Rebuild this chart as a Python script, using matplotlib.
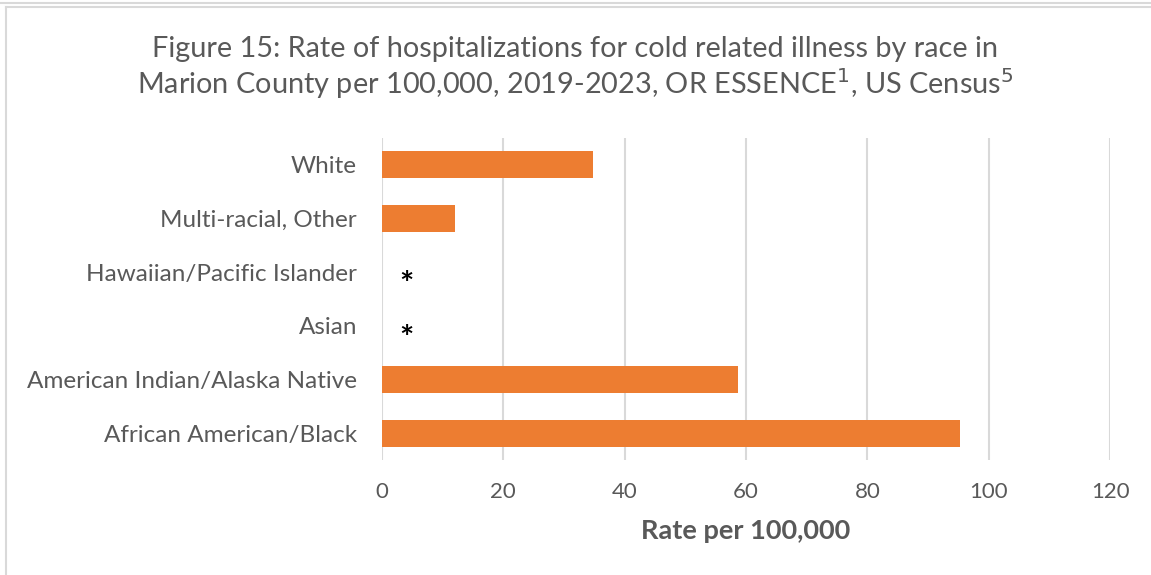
import matplotlib.pyplot as plt
from matplotlib.lines import Line2D

plt.rcParams['font.family'] = ['Lato', 'DejaVu Sans']

# data
races = ['African American/Black', 'American Indian/Alaska Native', 'Asian',
         'Hawaiian/Pacific Islander', 'Multi-racial, Other', 'White']
rates = [95.3, 58.7, 0, 0, 12.0, 34.8]
suppressed = ['Asian', 'Hawaiian/Pacific Islander']

fig = plt.figure(figsize=(11.51, 5.75), dpi=100)
ax = fig.add_axes([0.3319, 0.2, 0.6325, 0.56])

ax.barh(races, rates, height=0.5, color='#ED7D31', zorder=3)
for r in suppressed:
    ax.text(4, races.index(r) - 0.25, '*', ha='center', va='center', fontsize=24,
            fontweight='bold', color='black')

ax.set_xlim(0, 120)
ax.set_ylim(-0.5, len(races) - 0.5)
ax.set_xticks(range(0, 121, 20))
ax.grid(axis='x', color='#D9D9D9', linewidth=1.5, zorder=0)
for s in ax.spines.values():
    s.set_visible(False)
ax.tick_params(axis='both', length=0, labelcolor='#595959')
ax.tick_params(axis='y', pad=18, labelsize=17.5)
ax.tick_params(axis='x', pad=16, labelsize=16)
ax.set_xlabel('Rate per 100,000', fontsize=19.5, fontweight='bold',
              color='#595959', labelpad=12)

fig.text(0.5, 0.915, 'Figure 15: Rate of hospitalizations for cold related illness by race in',
         ha='center', va='center', fontsize=20.8, color='#595959')
fig.text(0.5, 0.855, 'Marion County per 100,000, 2019-2023, OR ESSENCE$^{1}$, US Census$^{5}$',
         ha='center', va='center', fontsize=20.8, color='#595959')

# outer borders
fig.add_artist(Line2D([0, 1], [0.995, 0.995], color='#D9D9D9', lw=1.5))
fig.add_artist(Line2D([0.005, 1], [0.988, 0.988], color='#D9D9D9', lw=1.5))
fig.add_artist(Line2D([0.005, 0.005], [0, 0.988], color='#D9D9D9', lw=1.5))

fig.savefig('out.png', dpi=100)
